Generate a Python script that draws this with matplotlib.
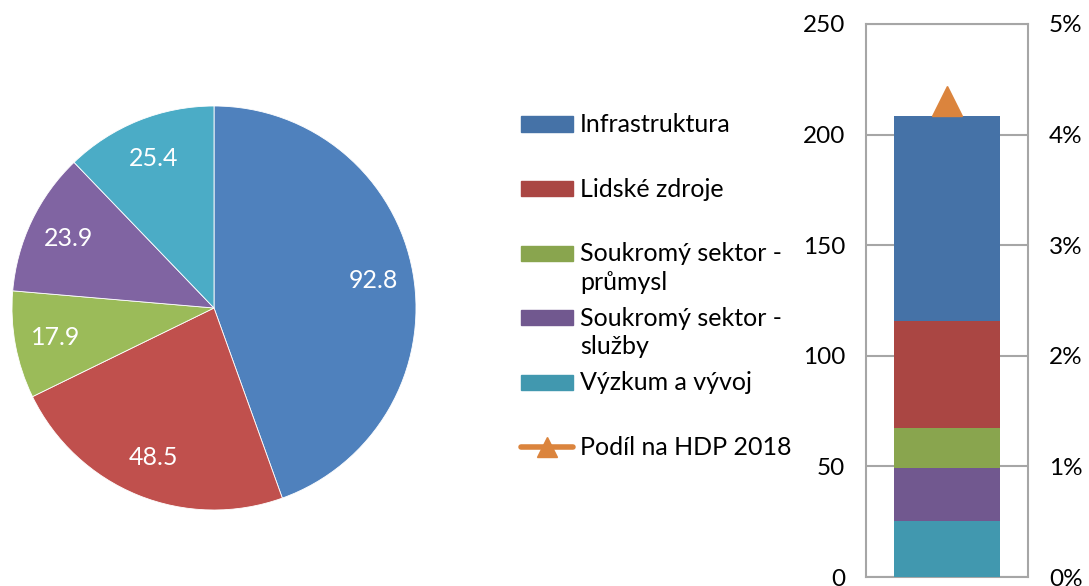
import matplotlib
matplotlib.use("Agg")
import matplotlib.pyplot as plt
from matplotlib.patches import Rectangle
from matplotlib.lines import Line2D
from matplotlib.ticker import FuncFormatter

plt.rcParams['font.family'] = ['Lato', 'DejaVu Sans']

# data
categories = ['Infrastruktura', 'Lidské zdroje', 'Soukromý sektor -\nprůmysl',
              'Soukromý sektor -\nslužby', 'Výzkum a vývoj']
values = [92.8, 48.5, 17.9, 23.9, 25.4]
hdp_label = 'Podíl na HDP 2018'
hdp_share = 4.3  # %

pie_colors = ['#4F81BD', '#C0504D', '#9BBB59', '#8064A2', '#4BACC6']
bar_colors = ['#4572A7', '#AA4643', '#89A54E', '#71588F', '#4198AF']
orange = '#DB843D'

W, H = 1089, 586
fig = plt.figure(figsize=(W / 100, H / 100), dpi=100)


def fx(x):
    return x / W


def fy(y):
    return 1 - y / H


# pie
cx, cy, r = 214, 308, 202
ax_pie = fig.add_axes([fx(cx - r), fy(cy + r), 2 * r / W, 2 * r / H])
total = sum(values)
wedges, texts, autotexts = ax_pie.pie(
    values, colors=pie_colors, startangle=90, counterclock=False,
    autopct=lambda p: '%.1f' % (p * total / 100), pctdistance=0.8,
    wedgeprops=dict(edgecolor='white', linewidth=0.6),
    textprops=dict(color='white', fontsize=18))
ax_pie.set_xlim(-1, 1)
ax_pie.set_ylim(-1, 1)

# stacked bar
ax = fig.add_axes([fx(866), fy(577), fx(1028) - fx(866), (577 - 24) / H])
bottom = 0
order = [4, 3, 2, 1, 0]
for i in order:
    ax.bar(0, values[i], bottom=bottom, width=0.66, color=bar_colors[i], zorder=3)
    bottom += values[i]
ax.set_xlim(-0.5, 0.5)
ax.set_ylim(0, 250)
ax.set_yticks([0, 50, 100, 150, 200, 250])
ax.set_xticks([])
ax.grid(axis='y', color='#A6A6A6', linewidth=1.5, zorder=0)
for s in ax.spines.values():
    s.set_color('#A6A6A6')
    s.set_linewidth(1.5)
ax.tick_params(axis='y', length=0, pad=15, labelsize=17.5)

ax2 = ax.twinx()
ax2.set_ylim(0, 5)
ax2.set_yticks([0, 1, 2, 3, 4, 5])
ax2.yaxis.set_major_formatter(FuncFormatter(lambda v, p: '%d%%' % v))
ax2.tick_params(axis='y', length=0, pad=15, labelsize=17.5)
for s in ax2.spines.values():
    s.set_visible(False)
ax2.plot([0], [hdp_share], marker='^', markersize=21, color=orange,
         linestyle='none', zorder=5)

# legend
y0, step = 124, 64.6
for i, lab in enumerate(categories):
    yc = y0 + i * step
    fig.patches.append(Rectangle((fx(521), fy(yc + 7.5)), 52 / W, 15 / H,
                                 transform=fig.transFigure, color=bar_colors[i]))
    fig.text(fx(580), fy(yc - 11), lab, fontsize=18, va='top', ha='left',
             linespacing=1.3)
yc = y0 + 5 * step
fig.add_artist(Line2D([fx(521), fx(573)], [fy(yc), fy(yc)], transform=fig.transFigure,
                      color=orange, linewidth=4, solid_capstyle='round'))
fig.add_artist(Line2D([fx(547)], [fy(yc)], transform=fig.transFigure,
                      color=orange, marker='^', markersize=15))
fig.text(fx(580), fy(yc - 11), hdp_label, fontsize=18, va='top', ha='left')

fig.savefig('out.png', dpi=100)
